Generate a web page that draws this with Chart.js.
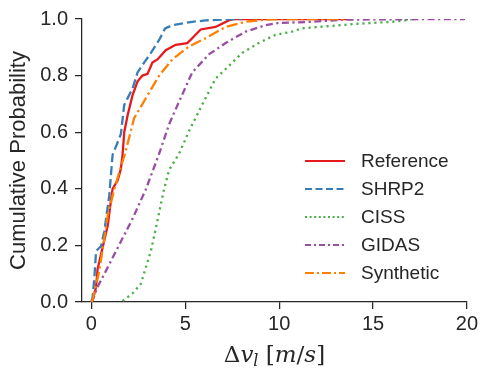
<!DOCTYPE html>
<html><head><meta charset="utf-8">
<script src="https://cdn.jsdelivr.net/npm/chart.js@4.4.1/dist/chart.umd.min.js"></script>
<style>html,body{margin:0;padding:0;background:#fff;}#wrap{width:481px;height:373px;}</style>
</head><body><div id="wrap"><canvas id="c" width="481" height="373"></canvas></div>
<script>
const seriesNames = ['Reference','SHRP2','CISS','GIDAS','Synthetic'];
const xTicks = [0,5,10,15,20];
const yTicks = [0,0.2,0.4,0.6,0.8,1.0];

const refX = [0,0.07,0.25,0.33,0.87,1.04,1.13,1.4,1.57,1.66,1.75,1.93,2.19,2.46,2.72,2.99,3.25,3.52,3.96,4.49,5.11,5.46,5.82,6.61,7.32,7.6,13.8];
const refY = [0,0.007,0.053,0.116,0.27,0.357,0.40,0.43,0.47,0.52,0.60,0.66,0.73,0.78,0.80,0.806,0.846,0.857,0.89,0.909,0.915,0.938,0.963,0.972,0.995,1.0,1.0];

const shrpX = [0,0.07,0.16,0.25,0.51,0.69,0.78,0.95,1.13,1.57,1.75,2.19,2.46,2.81,3.17,3.61,3.93,4.31,5.37,6.08,7.15,8.0];
const shrpY = [0,0.018,0.087,0.18,0.197,0.25,0.294,0.375,0.52,0.593,0.697,0.754,0.811,0.846,0.88,0.926,0.967,0.978,0.99,0.995,0.999,1.0];

const cissX = [1.66,2.19,2.63,2.9,3.17,3.43,3.61,3.87,4.14,4.67,5.2,5.9,6.61,7.32,8.03,8.91,9.8,10.68,11.2,12.63,14.39,15.98,16.7,17.05];
const cissY = [0.004,0.03,0.064,0.122,0.18,0.26,0.317,0.398,0.467,0.524,0.604,0.697,0.789,0.834,0.88,0.915,0.944,0.955,0.967,0.975,0.984,0.99,0.995,1.0];

const gidasX = [0,0.07,0.33,0.95,1.66,2.19,2.9,3.61,4.14,4.67,5.37,6.26,7.15,8.2,9.27,9.97,11.74,13.5,19.9];
const gidasY = [0,0.007,0.053,0.133,0.225,0.294,0.398,0.524,0.628,0.708,0.811,0.875,0.915,0.955,0.978,0.986,0.99,0.998,1.0];

const synX = [0,0.07,0.42,0.69,0.87,1.22,1.49,1.79,2.28,2.9,3.61,4.31,5.2,6.08,7.15,8.2,9.27,10.0,13.5];
const synY = [0,0.007,0.11,0.225,0.306,0.398,0.46,0.524,0.65,0.72,0.80,0.857,0.903,0.932,0.972,0.99,0.998,1.0,1.0];

const colors = ['#e41a1c','#377eb8','#4daf4a','#984ea3','#ff7f00'];
const dashes = [[], [9,4], [2.2,3.8], [7,3.5,2.2,3.5], [11,3.5,2.2,3.5]];
const legendDashes = [[], [7,3.5], [2,2.6], [6,3,2,3], [9,3,2,3]];
const xsAll = [refX, shrpX, cissX, gidasX, synX];
const ysAll = [refY, shrpY, cissY, gidasY, synY];

const AX = '#262626';
const FONT = "'Liberation Sans', Arial, sans-serif";

const datasets = seriesNames.map((n,i)=>({
  label:n,
  data: xsAll[i].map((x,j)=>({x:x,y:ysAll[i][j]})),
  borderColor: colors[i], backgroundColor: colors[i],
  borderWidth: 2.3, borderDash: dashes[i], pointRadius:0, fill:false, tension:0,
  order: 5-i
}));

const legendPlugin = {
  id:'customLegend',
  afterDraw(chart){
    const ctx = chart.ctx;
    ctx.save();
    const rows = [161,189,217,245,273];
    seriesNames.forEach((n,i)=>{
      const y = rows[i];
      ctx.strokeStyle = colors[i]; ctx.lineWidth = 1.8; ctx.setLineDash(legendDashes[i]);
      ctx.beginPath(); ctx.moveTo(305,y); ctx.lineTo(345,y); ctx.stroke();
      ctx.setLineDash([]);
      ctx.fillStyle = AX; ctx.font = "19px " + FONT; ctx.textBaseline='middle'; ctx.textAlign='left';
      ctx.fillText(n, 361, y+1);
    });
    ctx.restore();
  }
};

const xTitlePlugin = {
  id:'xTitle',
  afterDraw(chart){
    const ctx = chart.ctx;
    ctx.save();
    ctx.fillStyle = AX; ctx.textBaseline='alphabetic'; ctx.textAlign='left';
    const reg = "23px 'DejaVu Serif', 'Liberation Serif', serif";
    const ita = "italic 23px 'DejaVu Serif', 'Liberation Serif', serif";
    const sub = "italic 16px 'DejaVu Serif', 'Liberation Serif', serif";
    const parts = [['Δ',reg,0],['v',ita,0],['l',sub,4],[' [',reg,0],['m',ita,0],['/',reg,0],['s',ita,0],[']',reg,0]];
    let w = 0;
    parts.forEach(p=>{ctx.font=p[1]; w += ctx.measureText(p[0]).width;});
    const cx = (chart.chartArea.left + chart.chartArea.right)/2;
    let x = cx - w/2; const base = 362;
    parts.forEach(p=>{ctx.font=p[1]; ctx.fillText(p[0], x, base+p[2]); x += ctx.measureText(p[0]).width;});
    ctx.restore();
  }
};

new Chart(document.getElementById('c'), {
  type:'line',
  data:{datasets},
  options:{
    responsive:false, animation:false, devicePixelRatio:1,
    layout:{padding:{top:12,right:12,left:0,bottom:0}},
    plugins:{legend:{display:false}, tooltip:{enabled:false}},
    scales:{
      x:{type:'linear', min:-0.5, max:20,
        afterBuildTicks:(s)=>{s.ticks = xTicks.map(v=>({value:v}));},
        afterFit:(s)=>{s.height = 71;},
        grid:{display:true, drawOnChartArea:false, drawTicks:true, tickLength:7, color:AX, lineWidth:1.25},
        border:{display:true, color:AX, width:1.25},
        ticks:{color:AX, font:{family:FONT, size:20}, padding:3, maxRotation:0, callback:(v)=>String(v)},
        title:{display:false}
      },
      y:{type:'linear', min:0, max:1,
        afterBuildTicks:(s)=>{s.ticks = yTicks.map(v=>({value:v}));},
        afterFit:(s)=>{s.width = 82;},
        grid:{display:true, drawOnChartArea:false, drawTicks:true, tickLength:7, color:AX, lineWidth:1.25},
        border:{display:true, color:AX, width:1.25},
        ticks:{color:AX, font:{family:FONT, size:20}, padding:7, callback:(v)=>Number(v).toFixed(1)},
        title:{display:true, text:'Cumulative Probability', color:AX, font:{family:FONT, size:22}, padding:{top:6,bottom:0}}
      }
    }
  },
  plugins:[legendPlugin, xTitlePlugin]
});
</script></body></html>
